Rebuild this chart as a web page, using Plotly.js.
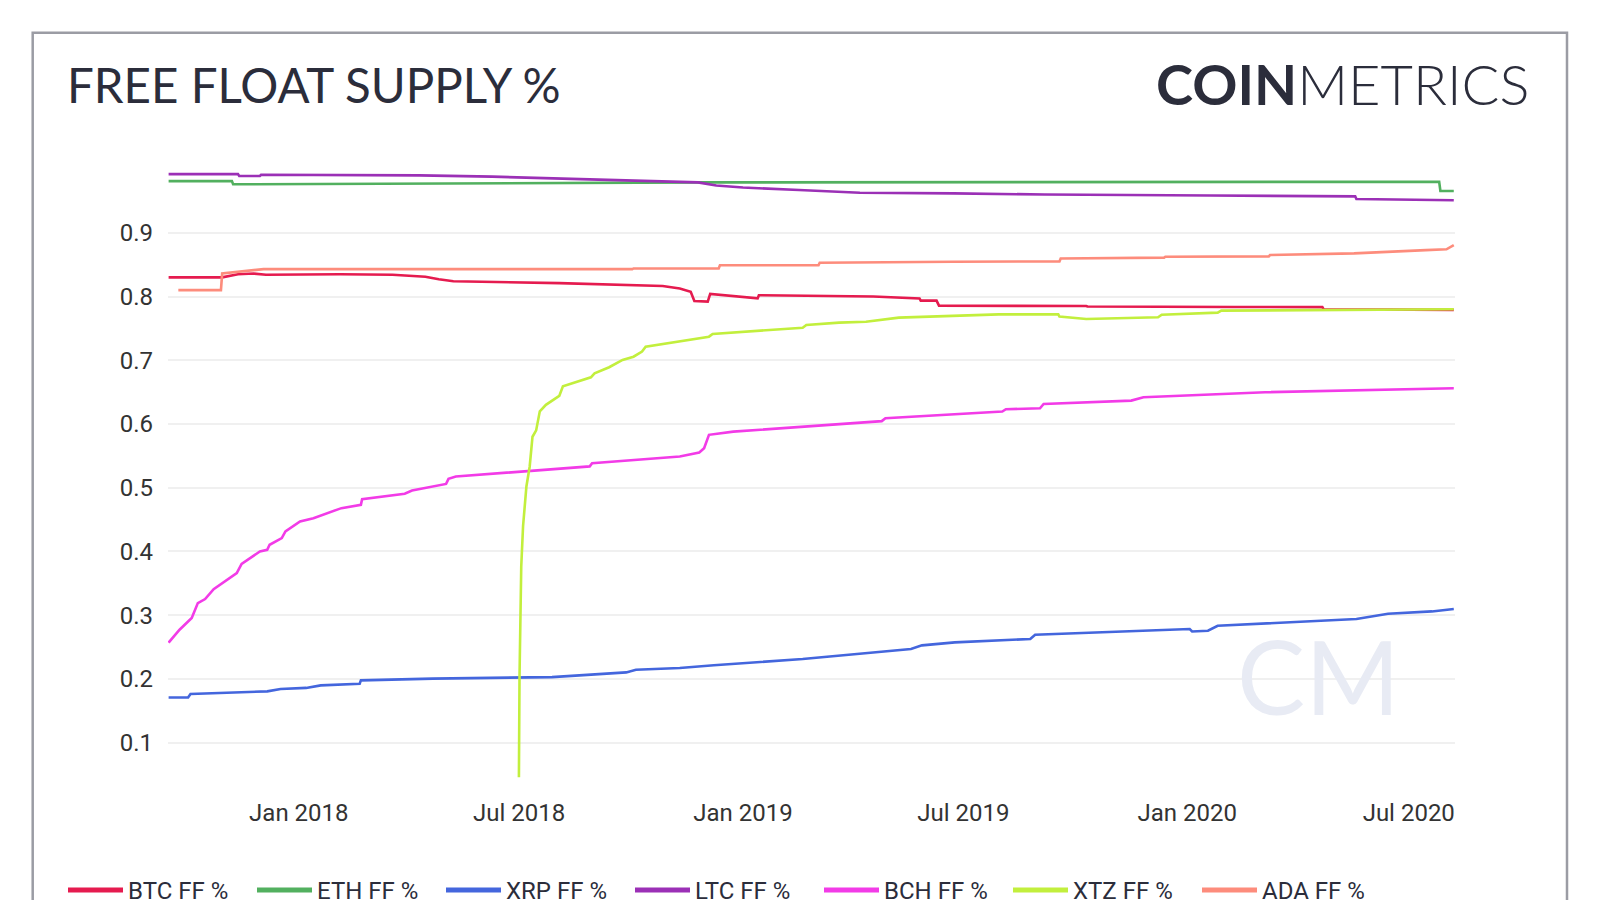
<!DOCTYPE html>
<html>
<head>
<meta charset="utf-8">
<script src="https://cdn.plot.ly/plotly-3.0.1.min.js"></script>
<style>
html,body{margin:0;padding:0;background:#fff;}
#chart{width:1600px;height:900px;}
</style>
</head>
<body>
<div id="chart"></div>
<script>
// ---------- DATA ----------
const seriesNames = ["BTC FF %", "ETH FF %", "XRP FF %", "LTC FF %", "BCH FF %", "XTZ FF %", "ADA FF %"];
const seriesColors = ["#e51b4f", "#52b05f", "#4466dd", "#9b30b6", "#f23be7", "#c2ef3d", "#fd8c7c"];

const btcDates = ["2017-09-16","2017-10-30","2017-11-12","2017-11-25","2017-12-05","2018-02-04","2018-03-19","2018-04-15","2018-04-26","2018-05-08","2018-08-03","2018-10-27","2018-11-10","2018-11-19","2018-11-22","2018-12-03","2018-12-05","2019-01-13","2019-01-14","2019-04-18","2019-05-26","2019-05-27","2019-06-09","2019-06-11","2019-10-10","2019-10-11","2020-02-09","2020-04-21","2020-04-22","2020-07-12","2020-08-07"];
const btcValues = [0.830,0.830,0.835,0.836,0.834,0.835,0.834,0.831,0.827,0.824,0.821,0.8165,0.8127,0.8075,0.793,0.792,0.804,0.797,0.802,0.800,0.797,0.7935,0.7935,0.7856,0.7850,0.7842,0.7835,0.7833,0.7800,0.7800,0.7790];

const ethDates = ["2017-09-16","2017-11-07","2017-11-08","2018-06-01","2018-12-01","2020-07-26","2020-07-27","2020-08-07"];
const ethValues = [0.981,0.981,0.976,0.977,0.979,0.980,0.9655,0.9655];

const xrpDates = ["2017-09-16","2017-10-02","2017-10-04","2017-12-06","2017-12-17","2018-01-07","2018-01-19","2018-02-20","2018-02-21","2018-04-21","2018-07-28","2018-09-05","2018-09-27","2018-10-05","2018-11-10","2018-12-08","2019-01-06","2019-02-19","2019-05-19","2019-05-28","2019-06-24","2019-08-25","2019-08-29","2019-12-10","2020-01-03","2020-01-05","2020-01-18","2020-01-26","2020-05-19","2020-06-14","2020-07-20","2020-08-07"];
const xrpValues = [0.171,0.171,0.1765,0.1806,0.1843,0.186,0.190,0.1926,0.1978,0.2005,0.203,0.2083,0.2103,0.2146,0.2172,0.2216,0.225,0.2313,0.247,0.2527,0.2574,0.2627,0.2694,0.2757,0.2783,0.2746,0.2757,0.2835,0.294,0.3023,0.306,0.3097];

const ltcDates = ["2017-09-16","2017-11-12","2017-11-13","2017-11-30","2017-12-01","2018-04-10","2018-06-09","2018-08-30","2018-10-24","2018-11-25","2018-12-10","2019-01-01","2019-02-16","2019-04-07","2019-06-23","2019-09-06","2020-01-20","2020-05-18","2020-05-19","2020-08-07"];
const ltcValues = [0.992,0.992,0.989,0.989,0.991,0.990,0.988,0.984,0.981,0.979,0.974,0.971,0.967,0.9627,0.9617,0.960,0.9585,0.957,0.953,0.951];

const bchDates = ["2017-09-16","2017-09-25","2017-10-05","2017-10-10","2017-10-16","2017-10-23","2017-11-11","2017-11-15","2017-11-30","2017-12-06","2017-12-08","2017-12-18","2017-12-21","2018-01-02","2018-01-13","2018-01-29","2018-02-05","2018-02-21","2018-02-22","2018-03-29","2018-04-04","2018-05-02","2018-05-04","2018-05-10","2018-06-15","2018-08-28","2018-08-30","2018-11-10","2018-11-26","2018-11-30","2018-12-04","2018-12-24","2019-04-25","2019-04-28","2019-08-02","2019-08-05","2019-09-02","2019-09-05","2019-11-16","2019-11-26","2020-03-05","2020-05-31","2020-08-07"];
const bchValues = [0.257,0.2773,0.2956,0.319,0.3254,0.341,0.366,0.3807,0.400,0.4027,0.4105,0.421,0.4314,0.447,0.4523,0.4627,0.468,0.4732,0.482,0.4905,0.4956,0.506,0.514,0.5176,0.5229,0.5335,0.5386,0.549,0.5552,0.562,0.583,0.588,0.6045,0.609,0.6195,0.6232,0.6247,0.6315,0.6367,0.642,0.6498,0.6534,0.656];

const xtzDates = ["2018-06-30 20:00","2018-07-01 08:00","2018-07-02 18:00","2018-07-04 06:00","2018-07-07","2018-07-09 16:00","2018-07-12","2018-07-15","2018-07-18","2018-07-23","2018-08-03","2018-08-06","2018-08-29","2018-09-01","2018-09-13","2018-09-24","2018-10-03","2018-10-10","2018-10-13","2018-11-11","2018-12-04","2018-12-07","2019-01-03","2019-02-19","2019-02-22","2019-03-21","2019-04-12","2019-05-09","2019-07-30","2019-09-17","2019-09-18","2019-10-10","2019-12-08","2019-12-11","2020-01-26","2020-01-29","2020-08-07"];
const xtzValues = [0.046,0.204,0.376,0.44,0.502,0.533,0.58,0.59,0.62,0.63,0.644,0.659,0.6733,0.6796,0.689,0.7005,0.7056,0.7135,0.7213,0.7302,0.737,0.7412,0.7448,0.751,0.7553,0.759,0.7605,0.7668,0.772,0.772,0.7684,0.7647,0.7674,0.7715,0.7747,0.7778,0.780];

const adaDates = ["2017-09-24","2017-10-29","2017-10-30","2017-11-15","2017-12-03","2018-10-02","2018-10-03","2018-12-12","2018-12-13","2019-03-04","2019-03-05","2019-06-23","2019-09-18","2019-09-19","2019-12-13","2019-12-14","2020-03-08","2020-03-09","2020-05-17","2020-07-15","2020-08-01","2020-08-07"];
const adaValues = [0.810,0.810,0.836,0.839,0.843,0.843,0.844,0.844,0.849,0.849,0.853,0.8545,0.855,0.8597,0.861,0.8623,0.863,0.865,0.8676,0.8728,0.874,0.8806];

const yTickVals = [0.1,0.2,0.3,0.4,0.5,0.6,0.7,0.8,0.9];
const xTickVals = ["2018-01-01","2018-07-01","2019-01-01","2019-07-01","2020-01-01","2020-07-01"];
const xTickText = ["Jan 2018","Jul 2018","Jan 2019","Jul 2019","Jan 2020","Jul 2020"];

// ---------- TRACES ----------
const allDates = [btcDates, ethDates, xrpDates, ltcDates, bchDates, xtzDates, adaDates];
const allValues = [btcValues, ethValues, xrpValues, ltcValues, bchValues, xtzValues, adaValues];

const traces = [];
seriesNames.forEach((name, i) => {
  traces.push({
    type: "scatter", mode: "lines", name: name,
    x: allDates[i], y: allValues[i],
    line: {color: seriesColors[i], width: 2.6},
    showlegend: false, hoverinfo: "x+y+name"
  });
});
// legend entries (thicker keys)
seriesNames.forEach((name, i) => {
  traces.push({
    type: "scatter", mode: "lines", name: name,
    x: [null], y: [null],
    line: {color: seriesColors[i], width: 5},
    showlegend: true, hoverinfo: "skip"
  });
});

const textColor = "#2b2d3b";

const layout = {
  width: 1600, height: 900,
  paper_bgcolor: "#ffffff", plot_bgcolor: "#ffffff",
  margin: {l: 168, r: 145, t: 169, b: 112, autoexpand: false},
  font: {family: "Roboto, Arial, sans-serif", size: 24, color: "#333333"},
  title: {
    text: "FREE FLOAT SUPPLY %",
    font: {family: "Lato, sans-serif", size: 47.5, color: textColor},
    xref: "container", x: 67/1600, xanchor: "left",
    yref: "container", y: 1 - 86/900, yanchor: "middle"
  },
  xaxis: {
    type: "date",
    range: ["2017-09-15 12:00", "2020-08-08"],
    tickmode: "array", tickvals: xTickVals, ticktext: xTickText,
    showgrid: false, zeroline: false, showline: false, ticks: "",
    tickfont: {family: "Roboto, Arial, sans-serif", size: 24, color: "#333333"},
    ticklabelstandoff: 8,
    fixedrange: true
  },
  yaxis: {
    range: [0.029, 1.0],
    tickmode: "array", tickvals: yTickVals,
    tickformat: ".1f",
    showgrid: true, gridcolor: "#f0f0f0", gridwidth: 2,
    zeroline: false, showline: false, ticks: "",
    tickfont: {family: "Roboto, Arial, sans-serif", size: 24, color: "#333333"},
    ticklabelstandoff: 14,
    fixedrange: true
  },
  legend: {
    orientation: "h",
    x: (63 - 168) / 1287, xanchor: "left",
    y: (788 - 890.5) / 619, yanchor: "middle",
    font: {family: "Roboto, Arial, sans-serif", size: 24, color: textColor},
    itemwidth: 55,
    entrywidth: 119, entrywidthmode: "pixels",
    bgcolor: "rgba(0,0,0,0)", borderwidth: 0,
    traceorder: "normal"
  },
  shapes: [{
    type: "rect", xref: "paper", yref: "paper",
    x0: (32.7 - 168) / 1287, x1: (1567 - 168) / 1287,
    y0: (788 - 915) / 619, y1: (788 - 32.7) / 619,
    line: {color: "#9b9ca4", width: 2.5}, fillcolor: "rgba(0,0,0,0)",
    layer: "below"
  }],
  annotations: [
    {
      xref: "paper", yref: "paper",
      x: (1531 - 168) / 1287, xanchor: "right",
      y: (788 - 84) / 619, yanchor: "middle",
      text: "<b>COIN</b><span style='font-weight:300'>METRICS</span>",
      showarrow: false,
      font: {family: "Lato, sans-serif", size: 56, color: textColor}
    },
    {
      xref: "paper", yref: "paper",
      x: (1318 - 168) / 1287, xanchor: "center",
      y: (788 - 675) / 619, yanchor: "middle",
      text: "CM", showarrow: false,
      font: {family: "Lato, sans-serif", size: 102, color: "#e8ebf4"}
    }
  ]
};

Plotly.newPlot("chart", traces, layout, {displayModeBar: false, staticPlot: true});
</script>
</body>
</html>
